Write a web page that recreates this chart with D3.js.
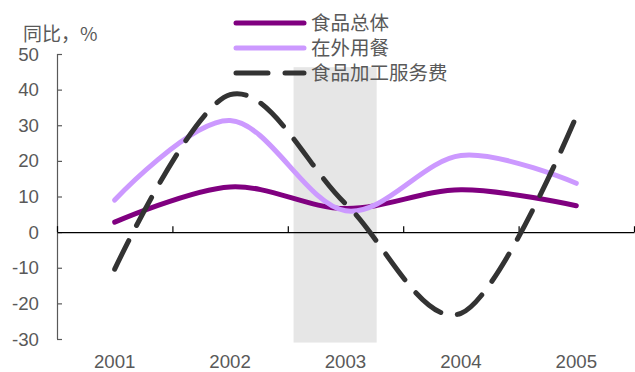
<!DOCTYPE html>
<html>
<head>
<meta charset="utf-8">
<script src="https://cdn.jsdelivr.net/npm/d3@7"></script>
<style>
  body { margin: 0; background: #fff; }
  svg { display: block; }
</style>
</head>
<body>
<svg class="svg" width="635" height="372"></svg>
<script>
// chart data
var years = [2001, 2002, 2003, 2004, 2005];
var seriesNames = ['食品总体', '在外用餐', '食品加工服务费'];
var foodTotal = [2.8, 12.7, 6.6, 11.9, 7.4];
var eatingOut = [9.0, 31.3, 6.0, 21.5, 13.7];
var processingFee = [-10.4, 38.6, 8.0, -22.8, 32.5];
var shadeYears = [2002.55, 2003.27];
var shadeValues = [46.3, -31];
var yTicks = [-30, -20, -10, 0, 10, 20, 30, 40, 50];

var svg = d3.select('.svg');

// x is a continuous year scale so the shaded period can sit between categories
var x = d3.scaleLinear().domain([2000.5, 2005.5]).range([57, 634]);
var y = d3.scaleLinear().domain([-30, 50]).range([339, 54]);

var gray = '#595959';
var fontLatin = 'Liberation Sans, Arial, sans-serif';
var fontCjk = '"Noto Sans CJK SC", sans-serif';
var fontSize = 18.67;

//shaded period
svg.append('rect')
  .attr('x', x(shadeYears[0]))
  .attr('y', y(shadeValues[0]))
  .attr('width', x(shadeYears[1]) - x(shadeYears[0]))
  .attr('height', y(shadeValues[1]) - y(shadeValues[0]))
  .attr('fill', '#e6e6e6');

//y axis
var yAxis = svg.append('g')
  .attr('transform', 'translate(' + x.range()[0] + ',0)')
  .call(d3.axisRight(y).tickValues(yTicks).tickSize(5).tickFormat(''));
yAxis.select('.domain').attr('stroke', gray).attr('stroke-width', 1.2)
  .attr('d', 'M0.5,' + y(50) + 'V' + y(-30));
yAxis.selectAll('.tick line').attr('stroke', gray).attr('stroke-width', 1.2);

svg.append('g').selectAll('text')
  .data(yTicks)
  .enter().append('text')
  .attr('x', 39)
  .attr('y', d => y(d))
  .attr('dy', '0.35em')
  .attr('text-anchor', 'end')
  .attr('font-family', fontLatin)
  .attr('font-size', fontSize)
  .attr('fill', gray)
  .text(d => d);

//x axis at zero, ticks between years pointing up
var bounds = d3.range(2000.5, 2006, 1);
var xAxis = svg.append('g')
  .attr('transform', 'translate(0,' + y(0) + ')')
  .call(d3.axisTop(x).tickValues(bounds).tickSize(6).tickSizeOuter(0).tickFormat(''));
xAxis.select('.domain').attr('stroke', '#000').attr('stroke-width', 1.2);
xAxis.selectAll('.tick line').attr('stroke', '#000').attr('stroke-width', 1.2);

svg.append('g').selectAll('text')
  .data(years)
  .enter().append('text')
  .attr('x', d => x(d))
  .attr('y', 368)
  .attr('text-anchor', 'middle')
  .attr('font-family', fontLatin)
  .attr('font-size', fontSize)
  .attr('fill', gray)
  .text(d => d);

//unit label
svg.append('text')
  .attr('x', 23)
  .attr('y', 41)
  .attr('font-family', fontCjk)
  .attr('font-size', 19)
  .attr('fill', gray)
  .text('同比，%');

//lines
var series = [
  { name: seriesNames[0], values: foodTotal, color: '#800080', dash: null },
  { name: seriesNames[1], values: eatingOut, color: '#cc99ff', dash: null },
  { name: seriesNames[2], values: processingFee, color: '#333333', dash: '32,17' }
];

var line = d3.line()
  .x((d, i) => x(years[i]))
  .y(d => y(d))
  .curve(d3.curveCatmullRom.alpha(0));

svg.append('g').selectAll('path')
  .data(series)
  .enter().append('path')
  .attr('d', d => line(d.values))
  .attr('fill', 'none')
  .attr('stroke', d => d.color)
  .attr('stroke-width', 5)
  .attr('stroke-linecap', 'round')
  .attr('stroke-dasharray', d => d.dash);

//legend
var legend = svg.append('g').selectAll('g')
  .data(series)
  .enter().append('g')
  .attr('transform', (d, i) => 'translate(0,' + (23 + i * 25) + ')');

legend.append('line')
  .attr('x1', 236).attr('x2', 304)
  .attr('stroke', d => d.color)
  .attr('stroke-width', 5)
  .attr('stroke-linecap', 'round')
  .attr('stroke-dasharray', d => d.dash);

legend.append('text')
  .attr('x', 311)
  .attr('dy', '0.35em')
  .attr('font-family', fontCjk)
  .attr('font-size', 19.5)
  .attr('fill', gray)
  .text(d => d.name);
</script>
</body>
</html>
